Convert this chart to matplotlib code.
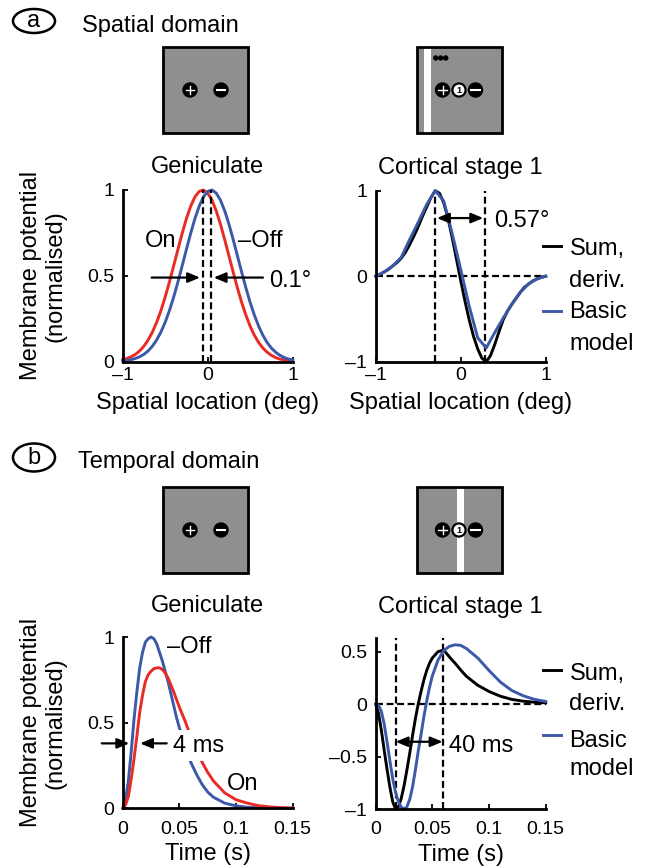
import matplotlib
matplotlib.use('Agg')
import matplotlib.pyplot as plt
from matplotlib.patches import Ellipse, Circle, Rectangle

plt.rcParams['font.family'] = ['Liberation Sans', 'DejaVu Sans']
plt.rcParams['lines.scale_dashes'] = False

# ---------------- data ----------------
space_x = [-1.0, -0.95, -0.9, -0.85, -0.8, -0.75, -0.7, -0.65, -0.6, -0.55, -0.5,
           -0.45, -0.4, -0.35, -0.3, -0.25, -0.2, -0.15, -0.1, -0.05, 0.0,
           0.05, 0.1, 0.15, 0.2, 0.25, 0.3, 0.35, 0.4, 0.45, 0.5,
           0.55, 0.6, 0.65, 0.7, 0.75, 0.8, 0.85, 0.9, 0.95, 1.0]
on_space = [0.012, 0.019, 0.029, 0.043, 0.063, 0.091, 0.127, 0.173, 0.230, 0.298, 0.377,
            0.465, 0.559, 0.655, 0.748, 0.834, 0.906, 0.960, 0.992, 1.000, 0.982,
            0.941, 0.879, 0.801, 0.711, 0.616, 0.521, 0.429, 0.344, 0.270, 0.206,
            0.153, 0.111, 0.079, 0.055, 0.037, 0.024, 0.015, 0.010, 0.006, 0.004]
off_space = [0.004, 0.007, 0.012, 0.019, 0.029, 0.043, 0.063, 0.091, 0.127, 0.173, 0.230,
             0.298, 0.377, 0.465, 0.559, 0.655, 0.748, 0.834, 0.906, 0.960, 0.992,
             1.000, 0.982, 0.941, 0.879, 0.801, 0.711, 0.616, 0.521, 0.429, 0.344,
             0.270, 0.206, 0.153, 0.111, 0.079, 0.055, 0.037, 0.024, 0.015, 0.010]
on_peak_x, off_peak_x = -0.06, 0.04

sum_space = [0.00, 0.02, 0.05, 0.08, 0.12, 0.16, 0.21, 0.28, 0.37, 0.47, 0.58,
             0.70, 0.81, 0.92, 1.00, 0.97, 0.86, 0.68, 0.45, 0.20, -0.05,
             -0.29, -0.51, -0.70, -0.85, -0.96, -1.00, -0.93, -0.80, -0.65, -0.51,
             -0.41, -0.33, -0.26, -0.19, -0.13, -0.09, -0.055, -0.03, -0.012, 0.00]
basic_x = [-1.0, -0.9, -0.8, -0.7, -0.6, -0.5, -0.4, -0.3, -0.2, -0.1, 0.0,
           0.1, 0.2, 0.3, 0.4, 0.5, 0.6, 0.7, 0.8, 0.9, 1.0]
basic_space = [0.0, 0.05, 0.12, 0.22, 0.43, 0.63, 0.84, 1.0, 0.88, 0.50, 0.08,
               -0.35, -0.72, -0.84, -0.66, -0.49, -0.33, -0.19, -0.09, -0.03, 0.0]
cort_peak_x, cort_trough_x = -0.3, 0.285

time_t = [0, 0.0025, 0.005, 0.0075, 0.01, 0.0125, 0.015, 0.0175, 0.02, 0.0225, 0.025,
          0.0275, 0.03, 0.0325, 0.035, 0.0375, 0.04, 0.0425, 0.045, 0.0475, 0.05,
          0.055, 0.06, 0.065, 0.07, 0.075, 0.08, 0.09, 0.1, 0.11, 0.12, 0.13, 0.14, 0.15]
off_time = [0, 0.05, 0.16, 0.33, 0.52, 0.68, 0.82, 0.91, 0.97, 0.99, 1.0,
            0.99, 0.96, 0.91, 0.86, 0.80, 0.74, 0.67, 0.60, 0.53, 0.47,
            0.37, 0.27, 0.20, 0.14, 0.095, 0.065, 0.03, 0.014, 0.006, 0.003, 0.001, 0.0, 0.0]
on_time = [0, 0.02, 0.07, 0.17, 0.29, 0.42, 0.56, 0.66, 0.74, 0.78, 0.80,
           0.815, 0.82, 0.82, 0.81, 0.79, 0.76, 0.72, 0.68, 0.635, 0.59,
           0.51, 0.42, 0.34, 0.27, 0.21, 0.16, 0.09, 0.05, 0.03, 0.015, 0.008, 0.004, 0.002]
sum_time = [0, -0.09, -0.25, -0.44, -0.62, -0.79, -0.93, -1.0, -0.98, -0.90, -0.78,
            -0.63, -0.47, -0.30, -0.14, 0.0, 0.12, 0.23, 0.32, 0.39, 0.44,
            0.50, 0.515, 0.45, 0.39, 0.325, 0.265, 0.18, 0.12, 0.075, 0.045, 0.028, 0.018, 0.012]
basic_time = [0, -0.01, -0.07, -0.19, -0.36, -0.54, -0.71, -0.84, -0.93, -0.98, -1.0,
              -0.98, -0.91, -0.79, -0.63, -0.45, -0.29, -0.12, 0.03, 0.16, 0.27,
              0.42, 0.51, 0.55, 0.565, 0.56, 0.53, 0.44, 0.32, 0.21, 0.13, 0.08, 0.045, 0.025]
sum_min_t, sum_max_t = 0.0176, 0.059

space_ticks = [-1, 0, 1]
space_ticklabels = ['\u20131', '0', '1']
unit_yticks = [0, 0.5, 1]
unit_yticklabels = ['0', '0.5', '1']
cort_space_yticks = [-1, 0, 1]
cort_space_yticklabels = ['\u20131', '0', '1']
time_ticks = [0, 0.05, 0.1, 0.15]
time_ticklabels = ['0', '0.05', '0.1', '0.15']
cort_time_yticks = [-1, -0.5, 0, 0.5]
cort_time_yticklabels = ['\u20131', '\u20130.5', '0', '0.5']

RED = '#ea2a25'
BLUE = '#3c58a8'
FS = 17
TFS = 14
LW = 2.1
DLW = 1.6
DASH = (0, (5, 2.6))

W, H = 648, 868
fig = plt.figure(figsize=(W / 100, H / 100), dpi=100)

# overlay in pixel coordinates for panel labels & stimulus icons
ov = fig.add_axes([0, 0, 1, 1])
ov.set_xlim(0, W)
ov.set_ylim(H, 0)
ov.axis('off')


def rect(x0, y0, x1, y1):
    return [x0 / W, 1 - y1 / H, (x1 - x0) / W, (y1 - y0) / H]


def style(ax, xpad):
    ax.set_facecolor('none')
    for s in ['top', 'right']:
        ax.spines[s].set_visible(False)
    for s in ['left', 'bottom']:
        ax.spines[s].set_linewidth(2.0)
    ax.tick_params(direction='in', length=3.5, width=1.3, labelsize=TFS)
    ax.tick_params(axis='x', pad=xpad)
    ax.tick_params(axis='y', pad=6)


def arrow(ax, x0, y0, x1, y1, st='-|>'):
    ax.annotate('', xy=(x1, y1), xytext=(x0, y0),
                arrowprops=dict(arrowstyle=st + ',head_length=0.6,head_width=0.25',
                                color='black', lw=1.6, mutation_scale=12,
                                shrinkA=0, shrinkB=0))


def legend(ax, ys):
    (yk, ysum, yder, yb, ybas, ymod) = ys
    ax.plot([0.985, 1.09], [yk, yk], color='black', lw=LW, transform=ax.transAxes, clip_on=False)
    ax.plot([0.985, 1.09], [yb, yb], color=BLUE, lw=LW, transform=ax.transAxes, clip_on=False)
    for txt, y in [('Sum,', ysum), ('deriv.', yder), ('Basic', ybas), ('model', ymod)]:
        ax.text(1.14, y, txt, fontsize=FS, va='baseline', ha='left', transform=ax.transAxes)


# ---------- panel a, geniculate ----------
ax1 = fig.add_axes(rect(122.7, 190, 292.7, 361.7))
style(ax1, 4)
ax1.plot(space_x, on_space, color=RED, lw=LW, clip_on=False)
ax1.plot(space_x, off_space, color=BLUE, lw=LW, clip_on=False)
for xp in (on_peak_x, off_peak_x):
    ax1.plot([xp, xp], [0, 1], color='black', lw=DLW, ls=DASH)
ax1.set_xlim(-1, 1)
ax1.set_ylim(0, 1)
ax1.set_xticks(space_ticks, space_ticklabels)
ax1.set_yticks(unit_yticks, unit_yticklabels)
arrow(ax1, -0.66, 0.49, -0.09, 0.49)
arrow(ax1, 0.65, 0.49, 0.07, 0.49)
ax1.text(0.72, 0.437, '0.1\u00b0', fontsize=FS, va='baseline')
ax1.text(-0.74, 0.67, 'On', fontsize=FS, va='baseline')
ax1.text(0.355, 0.67, '\u2013Off', fontsize=FS, va='baseline')
ax1.set_title('Geniculate', fontsize=FS, pad=12)
ax1.set_xlabel('Spatial location (deg)', fontsize=FS)
ax1.xaxis.set_label_coords(0.5, -0.175)
ax1.set_ylabel('Membrane potential\n(normalised)', fontsize=FS, linespacing=1.15)
ax1.yaxis.set_label_coords(-0.33, 0.5)

# ---------- panel a, cortical ----------
ax2 = fig.add_axes(rect(375.7, 190.7, 545.7, 361.7))
style(ax2, 4)
ax2.plot([-1, 1], [0, 0], color='black', lw=DLW, ls=DASH)
for xp in (cort_peak_x, cort_trough_x):
    ax2.plot([xp, xp], [-1, 1], color='black', lw=DLW, ls=DASH)
ax2.plot(space_x, sum_space, color='black', lw=LW, clip_on=False)
ax2.plot(basic_x, basic_space, color=BLUE, lw=LW, clip_on=False)
ax2.set_xlim(-1, 1)
ax2.set_ylim(-1, 1)
ax2.set_xticks(space_ticks, space_ticklabels)
ax2.set_yticks(cort_space_yticks, cort_space_yticklabels)
arrow(ax2, cort_peak_x + 0.02, 0.68, cort_trough_x - 0.02, 0.68, st='<|-|>')
ax2.text(0.39, 0.572, '0.57\u00b0', fontsize=FS, va='baseline')
ax2.set_title('Cortical stage 1', fontsize=FS, pad=12)
ax2.set_xlabel('Spatial location (deg)', fontsize=FS)
ax2.xaxis.set_label_coords(0.5, -0.175)
legend(ax2, (0.677, 0.624, 0.439, 0.296, 0.254, 0.068))

# ---------- panel b, geniculate ----------
ax3 = fig.add_axes(rect(122.7, 637, 292.7, 808.3))
style(ax3, 9)
ax3.plot(time_t, off_time, color=BLUE, lw=LW, clip_on=False)
ax3.plot(time_t, on_time, color=RED, lw=LW, clip_on=False)
ax3.set_xlim(0, 0.15)
ax3.set_ylim(0, 1)
ax3.set_xticks(time_ticks, time_ticklabels)
ax3.set_yticks(unit_yticks, unit_yticklabels)
arrow(ax3, -0.0185, 0.379, 0.0058, 0.379)
arrow(ax3, 0.0388, 0.379, 0.0153, 0.379)
ax3.text(0.0447, 0.33, '4 ms', fontsize=FS, va='baseline', zorder=5,
         bbox=dict(facecolor='white', edgecolor='none', boxstyle='square,pad=0.2'))
ax3.text(0.0388, 0.905, '\u2013Off', fontsize=FS, va='baseline')
ax3.text(0.0918, 0.107, 'On', fontsize=FS, va='baseline')
ax3.set_title('Geniculate', fontsize=FS, pad=18)
ax3.set_xlabel('Time (s)', fontsize=FS)
ax3.xaxis.set_label_coords(0.5, -0.205)
ax3.set_ylabel('Membrane potential\n(normalised)', fontsize=FS, linespacing=1.15)
ax3.yaxis.set_label_coords(-0.33, 0.5)

# ---------- panel b, cortical ----------
ax4 = fig.add_axes(rect(375.7, 638, 545.7, 809))
style(ax4, 9)
ax4.set_xlim(0, 0.15)
ax4.set_ylim(-1, 0.63)
ax4.plot([0, 0.15], [0, 0], color='black', lw=DLW, ls=DASH)
for xp in (sum_min_t, sum_max_t):
    ax4.plot([xp, xp], [-1, 0.63], color='black', lw=DLW, ls=DASH)
ax4.plot(time_t, sum_time, color='black', lw=LW, clip_on=False)
ax4.plot(time_t, basic_time, color=BLUE, lw=LW, clip_on=False)
ax4.set_xticks(time_ticks, time_ticklabels)
ax4.set_yticks(cort_time_yticks, cort_time_yticklabels)
arrow(ax4, sum_min_t, -0.359, sum_max_t, -0.359, st='<|-|>')
ax4.text(0.0647, -0.454, '40 ms', fontsize=FS, va='baseline')
ax4.set_title('Cortical stage 1', fontsize=FS, pad=18)
ax4.set_xlabel('Time (s)', fontsize=FS)
ax4.xaxis.set_label_coords(0.5, -0.205)
legend(ax4, (0.813, 0.754, 0.579, 0.433, 0.364, 0.199))

# ---------- panel labels ----------
ov.add_patch(Ellipse((34, 21), 42, 24, fill=False, lw=1.8, ec='black'))
ov.text(34, 21, 'a', fontsize=FS, ha='center', va='center')
ov.text(82, 32, 'Spatial domain', fontsize=FS, va='baseline')
ov.add_patch(Ellipse((34, 457.5), 42, 28, fill=False, lw=1.8, ec='black'))
ov.text(34, 457.5, 'b', fontsize=FS, ha='center', va='center')
ov.text(78, 468, 'Temporal domain', fontsize=FS, va='baseline')


# ---------- stimulus icons ----------
def box(x0, y0, bar=None):
    ov.add_patch(Rectangle((x0, y0), 85, 86, facecolor='#8f8f8f', edgecolor='none'))
    if bar is not None:
        ov.add_patch(Rectangle((bar, y0), 7, 86, facecolor='white', edgecolor='none'))
    ov.add_patch(Rectangle((x0, y0), 85, 86, fill=False, edgecolor='black', lw=2))


def on_sym(cx, cy, r=7.0):
    ov.add_patch(Circle((cx, cy), r, color='black'))
    ov.plot([cx - r * 0.62, cx + r * 0.62], [cy, cy], color='white', lw=1.0)
    ov.plot([cx, cx], [cy - r * 0.62, cy + r * 0.62], color='white', lw=1.0)


def off_sym(cx, cy, r=7.0):
    ov.add_patch(Circle((cx, cy), r, color='black'))
    ov.plot([cx - r * 0.62, cx + r * 0.62], [cy, cy], color='white', lw=1.5)


def one_sym(cx, cy, r=7.0):
    ov.add_patch(Circle((cx, cy), r, color='black'))
    ov.add_patch(Circle((cx, cy), r * 0.68, color='white'))
    ov.text(cx, cy + 0.3, '1', fontsize=6.5, ha='center', va='center', color='black', fontweight='bold')


box(163, 47)
on_sym(190, 90)
off_sym(221, 90)

box(417, 47, bar=424)
for dx in (435.7, 440.7, 445.7):
    ov.add_patch(Circle((dx, 58), 2.0, color='black'))
on_sym(442.5, 90)
one_sym(459, 90)
off_sym(475.5, 90)

box(163, 487)
on_sym(190, 530)
off_sym(221, 530)

box(417, 487, bar=456.5)
on_sym(442.5, 530)
one_sym(459, 530)
off_sym(475.5, 530)

fig.savefig('out.png', dpi=100)
